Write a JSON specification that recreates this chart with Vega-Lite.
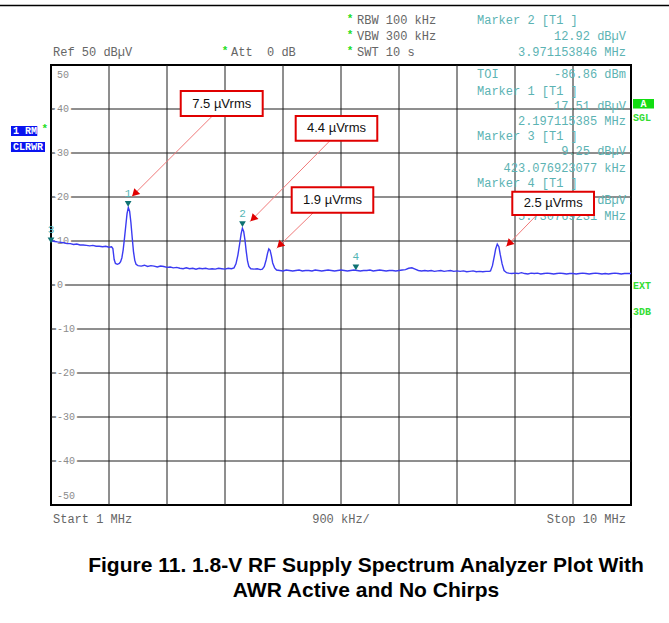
{
  "$schema": "https://vega.github.io/schema/vega-lite/v6.json",
  "width": 580,
  "height": 440,
  "autosize": {"type": "none"},
  "padding": {"left": 51, "top": 65, "right": 38, "bottom": 118},
  "background": "white",
  "config": {"view": {"stroke": "#000000", "strokeWidth": 2}},
  "datasets": {
    "trace": [
      {"f":1.00,"db":10.3},{"f":1.03,"db":10.0},{"f":1.06,"db":9.9},{"f":1.10,"db":9.8},{"f":1.15,"db":9.7},{"f":1.20,"db":9.6},{"f":1.25,"db":9.4},{"f":1.30,"db":9.4},{"f":1.35,"db":9.2},{"f":1.40,"db":9.3},{"f":1.45,"db":9.1},{"f":1.50,"db":9.1},{"f":1.55,"db":9.0},{"f":1.60,"db":8.9},{"f":1.65,"db":9.0},{"f":1.70,"db":8.8},{"f":1.75,"db":8.8},{"f":1.80,"db":8.7},{"f":1.85,"db":8.8},{"f":1.90,"db":8.6},{"f":1.94,"db":8.7},{"f":1.96,"db":8.3},{"f":1.98,"db":5.8},{"f":2.00,"db":4.9},{"f":2.03,"db":4.7},{"f":2.06,"db":4.9},{"f":2.08,"db":5.3},{"f":2.10,"db":6.2},{"f":2.12,"db":8.0},{"f":2.14,"db":10.6},{"f":2.16,"db":13.4},{"f":2.18,"db":16.2},{"f":2.20,"db":17.6},{"f":2.22,"db":16.8},{"f":2.24,"db":14.2},{"f":2.26,"db":10.8},{"f":2.28,"db":7.6},{"f":2.30,"db":5.6},{"f":2.32,"db":4.7},{"f":2.35,"db":4.4},{"f":2.40,"db":4.3},{"f":2.45,"db":4.5},{"f":2.50,"db":4.2},{"f":2.55,"db":4.4},{"f":2.60,"db":4.3},{"f":2.65,"db":4.1},{"f":2.70,"db":4.3},{"f":2.75,"db":4.2},{"f":2.80,"db":4.0},{"f":2.85,"db":4.1},{"f":2.90,"db":3.9},{"f":2.95,"db":4.0},{"f":3.00,"db":3.8},{"f":3.05,"db":3.7},{"f":3.10,"db":3.9},{"f":3.15,"db":3.7},{"f":3.20,"db":3.8},{"f":3.25,"db":3.6},{"f":3.30,"db":3.8},{"f":3.35,"db":3.7},{"f":3.40,"db":3.8},{"f":3.45,"db":3.6},{"f":3.50,"db":3.7},{"f":3.55,"db":3.6},{"f":3.60,"db":3.8},{"f":3.65,"db":3.7},{"f":3.70,"db":3.6},{"f":3.75,"db":3.8},{"f":3.80,"db":3.7},{"f":3.84,"db":3.9},{"f":3.87,"db":4.8},{"f":3.90,"db":6.8},{"f":3.93,"db":9.6},{"f":3.95,"db":11.6},{"f":3.97,"db":12.9},{"f":3.99,"db":12.2},{"f":4.01,"db":10.2},{"f":4.03,"db":7.6},{"f":4.05,"db":5.4},{"f":4.07,"db":4.2},{"f":4.10,"db":3.7},{"f":4.15,"db":3.6},{"f":4.20,"db":3.7},{"f":4.25,"db":3.5},{"f":4.28,"db":3.6},{"f":4.31,"db":4.2},{"f":4.34,"db":5.8},{"f":4.36,"db":7.2},{"f":4.38,"db":8.2},{"f":4.40,"db":7.9},{"f":4.42,"db":6.6},{"f":4.44,"db":5.0},{"f":4.47,"db":3.9},{"f":4.50,"db":3.4},{"f":4.55,"db":3.3},{"f":4.60,"db":3.2},{"f":4.65,"db":3.4},{"f":4.70,"db":3.3},{"f":4.75,"db":3.2},{"f":4.80,"db":3.3},{"f":4.85,"db":3.4},{"f":4.90,"db":3.2},{"f":4.95,"db":3.3},{"f":5.00,"db":3.3},{"f":5.05,"db":3.2},{"f":5.10,"db":3.4},{"f":5.15,"db":3.3},{"f":5.20,"db":3.2},{"f":5.25,"db":3.3},{"f":5.30,"db":3.4},{"f":5.35,"db":3.3},{"f":5.40,"db":3.2},{"f":5.45,"db":3.3},{"f":5.50,"db":3.4},{"f":5.55,"db":3.3},{"f":5.60,"db":3.2},{"f":5.65,"db":3.3},{"f":5.70,"db":3.4},{"f":5.75,"db":3.3},{"f":5.80,"db":3.2},{"f":5.85,"db":3.3},{"f":5.90,"db":3.3},{"f":5.95,"db":3.4},{"f":6.00,"db":3.2},{"f":6.05,"db":3.3},{"f":6.10,"db":3.4},{"f":6.15,"db":3.3},{"f":6.20,"db":3.2},{"f":6.25,"db":3.3},{"f":6.30,"db":3.3},{"f":6.35,"db":3.2},{"f":6.40,"db":3.3},{"f":6.45,"db":3.4},{"f":6.50,"db":3.5},{"f":6.55,"db":3.8},{"f":6.60,"db":3.9},{"f":6.65,"db":3.6},{"f":6.70,"db":3.3},{"f":6.75,"db":3.2},{"f":6.80,"db":3.3},{"f":6.85,"db":3.2},{"f":6.90,"db":3.3},{"f":6.95,"db":3.1},{"f":7.00,"db":3.2},{"f":7.05,"db":3.3},{"f":7.10,"db":3.1},{"f":7.15,"db":3.2},{"f":7.20,"db":3.3},{"f":7.25,"db":3.1},{"f":7.30,"db":3.2},{"f":7.35,"db":3.1},{"f":7.40,"db":3.2},{"f":7.45,"db":3.0},{"f":7.50,"db":3.1},{"f":7.55,"db":3.2},{"f":7.60,"db":3.0},{"f":7.65,"db":3.1},{"f":7.70,"db":3.0},{"f":7.75,"db":3.1},{"f":7.80,"db":3.1},{"f":7.82,"db":3.2},{"f":7.85,"db":4.4},{"f":7.88,"db":6.6},{"f":7.90,"db":8.2},{"f":7.925,"db":9.3},{"f":7.95,"db":8.7},{"f":7.97,"db":7.0},{"f":8.00,"db":4.8},{"f":8.03,"db":3.3},{"f":8.07,"db":2.8},{"f":8.10,"db":2.7},{"f":8.15,"db":2.6},{"f":8.20,"db":2.7},{"f":8.25,"db":2.6},{"f":8.30,"db":2.8},{"f":8.35,"db":2.6},{"f":8.40,"db":2.5},{"f":8.45,"db":2.7},{"f":8.50,"db":2.6},{"f":8.55,"db":2.7},{"f":8.60,"db":2.5},{"f":8.65,"db":2.6},{"f":8.70,"db":2.7},{"f":8.75,"db":2.6},{"f":8.80,"db":2.5},{"f":8.85,"db":2.6},{"f":8.90,"db":2.7},{"f":8.95,"db":2.6},{"f":9.00,"db":2.5},{"f":9.05,"db":2.6},{"f":9.10,"db":2.6},{"f":9.15,"db":2.5},{"f":9.20,"db":2.6},{"f":9.25,"db":2.7},{"f":9.30,"db":2.6},{"f":9.35,"db":2.5},{"f":9.40,"db":2.6},{"f":9.45,"db":2.7},{"f":9.50,"db":2.6},{"f":9.55,"db":2.5},{"f":9.60,"db":2.6},{"f":9.65,"db":2.5},{"f":9.70,"db":2.6},{"f":9.75,"db":2.7},{"f":9.80,"db":2.6},{"f":9.85,"db":2.5},{"f":9.90,"db":2.6},{"f":9.95,"db":2.6},{"f":10.00,"db":2.6}
    ],
    "vgrid": [
      {"f":1.9,"db":-50,"db2":50},{"f":2.8,"db":-50,"db2":50},{"f":3.7,"db":-50,"db2":50},{"f":4.6,"db":-50,"db2":50},{"f":5.5,"db":-50,"db2":50},{"f":6.4,"db":-50,"db2":50},{"f":7.3,"db":-50,"db2":50},{"f":8.2,"db":-50,"db2":50},{"f":9.1,"db":-50,"db2":50}
    ],
    "hgrid": [
      {"db":40,"f":1,"f2":10},{"db":30,"f":1,"f2":10},{"db":20,"f":1,"f2":10},{"db":10,"f":1,"f2":10},{"db":0,"f":1,"f2":10},{"db":-10,"f":1,"f2":10},{"db":-20,"f":1,"f2":10},{"db":-30,"f":1,"f2":10},{"db":-40,"f":1,"f2":10}
    ],
    "markers": [
      {"f":2.197,"db":17.51,"id":"1"},{"f":3.971,"db":12.92,"id":"2"},{"f":1.0,"db":9.25,"id":"3"},{"f":5.731,"db":3.1,"id":"4"}
    ],
    "ylab": [
      {"f":1,"db":40,"t":"40"},{"f":1,"db":30,"t":"30"},{"f":1,"db":20,"t":"20"},{"f":1,"db":10,"t":"10"},{"f":1,"db":0,"t":"0"},{"f":1,"db":-10,"t":"-10"},{"f":1,"db":-20,"t":"-20"},{"f":1,"db":-30,"t":"-30"},{"f":1,"db":-40,"t":"-40"}
    ],
    "ytop": [{"f":1,"db":50,"t":"50"}],
    "ybot": [{"f":1,"db":-50,"t":"-50"}],
    "grayLeft": [
      {"f":1.031,"db":52.95,"t":"Ref 50 dBµV"},
      {"f":3.793,"db":52.95,"t":"Att\u00a0\u00a00 dB"},
      {"f":5.748,"db":60.23,"t":"RBW 100 kHz"},
      {"f":5.748,"db":56.59,"t":"VBW 300 kHz"},
      {"f":5.748,"db":52.95,"t":"SWT 10 s"},
      {"f":1.031,"db":-53.18,"t":"Start 1 MHz"}
    ],
    "grayRight": [{"f":9.922,"db":-53.18,"t":"Stop 10 MHz"}],
    "grayCenter": [{"f":5.5,"db":-53.18,"t":"900 kHz/"}],
    "stars": [
      {"f":3.70,"db":52.95},{"f":5.64,"db":60.23},{"f":5.64,"db":56.59},{"f":5.64,"db":52.95},{"f":0.902,"db":35.3}
    ],
    "tealLeft": [
      {"f":7.61,"db":60.23,"t":"Marker 2 [T1 ]"},
      {"f":7.61,"db":47.95,"t":"TOI"},
      {"f":7.61,"db":44.2,"t":"Marker 1 [T1 ]"},
      {"f":7.61,"db":33.86,"t":"Marker 3 [T1 ]"},
      {"f":7.61,"db":23.11,"t":"Marker 4 [T1 ]"}
    ],
    "tealRight": [
      {"f":9.922,"db":56.59,"t":"12.92 dBµV"},
      {"f":9.922,"db":52.95,"t":"3.971153846 MHz"},
      {"f":9.922,"db":47.95,"t":"-86.86 dBm"},
      {"f":9.922,"db":40.6,"t":"17.51 dBµV"},
      {"f":9.922,"db":37.27,"t":"2.197115385 MHz"},
      {"f":9.922,"db":30.45,"t":"9.25 dBµV"},
      {"f":9.922,"db":26.6,"t":"423.076923077 kHz"},
      {"f":9.922,"db":19.32,"t":"3.53 dBµV"},
      {"f":9.922,"db":15.68,"t":"5.730769231 MHz"}
    ],
    "arrows": [
      {"f":3.493,"db":38.25,"f2":2.252,"db2":20.07},
      {"f":5.329,"db":32.80,"f2":4.088,"db2":14.39},
      {"f":5.070,"db":16.43,"f2":4.502,"db2":8.34},
      {"f":8.537,"db":15.91,"f2":8.060,"db2":8.70}
    ],
    "notes": [
      {"f":3.013,"f2":4.285,"db":44.09,"db2":38.41},
      {"f":4.797,"f2":6.063,"db":38.41,"db2":32.80},
      {"f":4.735,"f2":6.001,"db":22.20,"db2":16.43},
      {"f":8.158,"f2":9.426,"db":21.20,"db2":15.91}
    ],
    "noteLabels": [
      {"f":3.649,"db":41.25,"t":"7.5 µVrms"},
      {"f":5.430,"db":35.60,"t":"4.4 µVrms"},
      {"f":5.368,"db":19.32,"t":"1.9 µVrms"},
      {"f":8.792,"db":18.55,"t":"2.5 µVrms"}
    ],
    "blueBoxes": [
      {"f":0.379,"f2":0.787,"db":36.14,"db2":33.86},
      {"f":0.379,"f2":0.907,"db":32.50,"db2":30.23}
    ],
    "blueText": [
      {"f":0.41,"db":35.0,"t":"1 RM"},
      {"f":0.41,"db":31.36,"t":"CLRWR"}
    ],
    "greenBox": [{"f":10.031,"f2":10.357,"db":42.27,"db2":40.11}],
    "greenBoxText": [{"f":10.194,"db":41.19,"t":"A"}],
    "greenText": [
      {"f":10.031,"db":37.89,"t":"SGL"},
      {"f":10.031,"db":-0.16,"t":"EXT"},
      {"f":10.031,"db":-6.07,"t":"3DB"}
    ],
    "topLine": [{"f":0.2,"f2":10.6,"db":63.5}],
    "caption": [
      {"f":5.888,"db":-63.86,"t":"Figure 11. 1.8-V RF Supply Spectrum Analyzer Plot With"},
      {"f":5.888,"db":-69.55,"t":"AWR Active and No Chirps"}
    ]
  },
  "encoding": {
    "x": {"field": "f", "type": "quantitative", "scale": {"domain": [1, 10], "nice": false, "zero": false}, "axis": null},
    "y": {"field": "db", "type": "quantitative", "scale": {"domain": [-50, 50], "nice": false, "zero": false}, "axis": null}
  },
  "layer": [
    {"data": {"name": "vgrid"},
     "mark": {"type": "rule", "color": "#1e1e1e", "strokeWidth": 1},
     "encoding": {"y2": {"field": "db2"}}},
    {"data": {"name": "hgrid"},
     "mark": {"type": "rule", "color": "#1e1e1e", "strokeWidth": 1},
     "encoding": {"x2": {"field": "f2"}}},
    {"data": {"name": "ylab"},
     "mark": {"type": "text", "align": "left", "baseline": "middle", "dx": 6, "font": "Liberation Mono", "fontSize": 10, "fill": "white", "stroke": "white", "strokeWidth": 5},
     "encoding": {"text": {"field": "t"}}},
    {"data": {"name": "ylab"},
     "mark": {"type": "text", "align": "left", "baseline": "middle", "dx": 6, "font": "Liberation Mono", "fontSize": 10, "color": "#8c8c8c"},
     "encoding": {"text": {"field": "t"}}},
    {"data": {"name": "ytop"},
     "mark": {"type": "text", "align": "left", "baseline": "top", "dx": 6, "dy": 5, "font": "Liberation Mono", "fontSize": 10, "color": "#8c8c8c"},
     "encoding": {"text": {"field": "t"}}},
    {"data": {"name": "ybot"},
     "mark": {"type": "text", "align": "left", "baseline": "bottom", "dx": 6, "dy": -4, "font": "Liberation Mono", "fontSize": 10, "color": "#8c8c8c"},
     "encoding": {"text": {"field": "t"}}},
    {"data": {"name": "trace"},
     "mark": {"type": "line", "color": "#3b3bf2", "strokeWidth": 1.4, "interpolate": "linear"}},
    {"data": {"name": "tealLeft"},
     "mark": {"type": "text", "align": "left", "baseline": "middle", "font": "Liberation Mono", "fontSize": 12, "color": "#5cb3b3"},
     "encoding": {"text": {"field": "t"}}},
    {"data": {"name": "tealRight"},
     "mark": {"type": "text", "align": "right", "baseline": "middle", "font": "Liberation Mono", "fontSize": 12, "color": "#5cb3b3"},
     "encoding": {"text": {"field": "t"}}},
    {"data": {"name": "markers"},
     "mark": {"type": "point", "shape": "triangle-down", "filled": true, "size": 45, "color": "#0e7272", "opacity": 1, "yOffset": -4}},
    {"data": {"name": "markers"},
     "mark": {"type": "text", "baseline": "middle", "align": "center", "dy": -14, "font": "Liberation Mono", "fontSize": 11, "color": "#55b5b5"},
     "encoding": {"text": {"field": "id"}}},
    {"data": {"name": "grayLeft"},
     "mark": {"type": "text", "align": "left", "baseline": "middle", "font": "Liberation Mono", "fontSize": 12, "color": "#666666"},
     "encoding": {"text": {"field": "t"}}},
    {"data": {"name": "grayRight"},
     "mark": {"type": "text", "align": "right", "baseline": "middle", "font": "Liberation Mono", "fontSize": 12, "color": "#666666"},
     "encoding": {"text": {"field": "t"}}},
    {"data": {"name": "grayCenter"},
     "mark": {"type": "text", "align": "center", "baseline": "middle", "font": "Liberation Mono", "fontSize": 12, "color": "#666666"},
     "encoding": {"text": {"field": "t"}}},
    {"data": {"name": "stars"},
     "mark": {"type": "text", "align": "center", "baseline": "middle", "dy": -1, "text": "*", "font": "Liberation Mono", "fontSize": 11, "fontWeight": "bold", "color": "#22dd22"}},
    {"data": {"name": "arrows"},
     "mark": {"type": "rule", "color": "#f07a7a", "strokeWidth": 1},
     "encoding": {"x2": {"field": "f2"}, "y2": {"field": "db2"}}},
    {"data": {"name": "notes"},
     "mark": {"type": "rect", "fill": "white", "stroke": "#e00000", "strokeWidth": 2},
     "encoding": {"x2": {"field": "f2"}, "y2": {"field": "db2"}}},
    {"data": {"name": "noteLabels"},
     "mark": {"type": "text", "align": "center", "baseline": "middle", "font": "Liberation Sans", "fontSize": 13, "color": "#111111"},
     "encoding": {"text": {"field": "t"}}},
    {"data": {"name": "arrows"},
     "mark": {"type": "point", "shape": "triangle-up", "filled": true, "size": 70, "angle": 225, "color": "#e00000", "opacity": 1, "xOffset": 3, "yOffset": -3},
     "encoding": {"x": {"field": "f2", "type": "quantitative"}, "y": {"field": "db2", "type": "quantitative"}}},
    {"data": {"name": "blueBoxes"},
     "mark": {"type": "rect", "fill": "#0a14f0"},
     "encoding": {"x2": {"field": "f2"}, "y2": {"field": "db2"}}},
    {"data": {"name": "blueText"},
     "mark": {"type": "text", "align": "left", "baseline": "middle", "font": "Liberation Mono", "fontSize": 10, "fontWeight": "bold", "color": "white"},
     "encoding": {"text": {"field": "t"}}},
    {"data": {"name": "greenBox"},
     "mark": {"type": "rect", "fill": "#12dd12"},
     "encoding": {"x2": {"field": "f2"}, "y2": {"field": "db2"}}},
    {"data": {"name": "greenBoxText"},
     "mark": {"type": "text", "align": "center", "baseline": "middle", "font": "Liberation Mono", "fontSize": 10, "fontWeight": "bold", "color": "white"},
     "encoding": {"text": {"field": "t"}}},
    {"data": {"name": "greenText"},
     "mark": {"type": "text", "align": "left", "baseline": "middle", "font": "Liberation Mono", "fontSize": 10, "fontWeight": "bold", "color": "#33dd33"},
     "encoding": {"text": {"field": "t"}}},
    {"data": {"name": "topLine"},
     "mark": {"type": "rule", "color": "#000000", "strokeWidth": 1.5},
     "encoding": {"x2": {"field": "f2"}}},
    {"data": {"name": "caption"},
     "mark": {"type": "text", "align": "center", "baseline": "middle", "font": "Liberation Sans", "fontSize": 21, "fontWeight": "bold", "color": "#000000"},
     "encoding": {"text": {"field": "t"}}}
  ]
}
